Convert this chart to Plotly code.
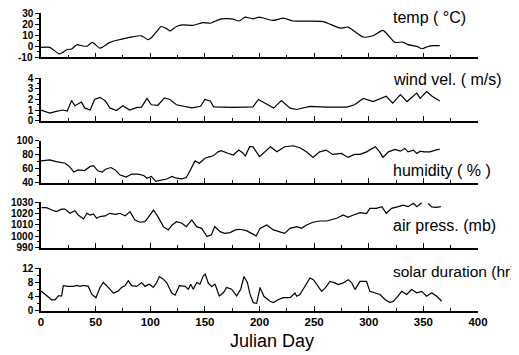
import plotly.graph_objects as go

# ---------------- data ----------------
temp_day = [0, 8, 17, 24, 28, 33, 37, 42, 47, 54, 63, 72, 81, 92, 98, 101, 106, 110, 115, 118, 124, 130,
            139, 148, 155, 165, 176, 181, 187, 194, 200, 212, 222, 231, 258, 274, 281, 295, 304, 313, 324,
            331, 336, 344, 349, 353, 358, 365]
temp_val = [-1, -1, -7, -3, -2.5, 1.4, 0.5, 0, 3.5, -1.7, 3.5, 6, 8, 9.5, 6, 7.7, 13.5, 18, 16, 14, 18, 19.5,
            19, 21.6, 21, 25, 24.7, 23, 26.5, 25, 26.5, 23.5, 25.6, 23, 22.5, 16.5, 17.5, 8.4, 9.5, 14.4, 3.5,
            3.8, 1.4, -0.2, -2.3, -0.7, 0.5, 0.5]

wind_day = [0, 8, 13, 20, 24, 28, 31, 37, 40, 45, 49, 54, 59, 63, 69, 75, 81, 88, 92, 97, 101, 107, 113, 118,
            124, 133, 138, 146, 150, 155, 158, 176, 194, 199, 205, 213, 220, 228, 234, 246, 261, 280, 287, 295,
            304, 316, 322, 329, 335, 344, 347, 353, 358, 361, 365]
wind_val = [1.0, 0.7, 0.85, 1.0, 0.9, 1.9, 1.4, 1.75, 1.2, 1.0, 2.0, 2.2, 1.85, 1.2, 0.95, 1.4, 1.0, 1.25, 1.27,
            2.1, 1.5, 1.45, 2.15, 2.0, 1.5, 1.35, 1.2, 1.35, 2.0, 1.85, 1.3, 1.25, 1.3, 2.0, 1.65, 1.18, 1.9,
            1.18, 1.05, 1.34, 1.27, 1.27, 1.5, 2.1, 1.8, 2.3, 1.65, 2.45, 1.8, 2.6, 2.1, 2.75, 2.3, 2.1, 1.85]

hum_day = [0, 8, 14, 22, 26, 30, 34, 40, 45, 48, 52, 56, 59, 64, 68, 72, 78, 83, 89, 94, 97, 101, 105, 110,
           115, 120, 124, 129, 133, 136, 141, 145, 150, 155, 158, 162, 165, 171, 176, 181, 185, 187, 191, 194,
           200, 210, 216, 223, 231, 237, 243, 249, 255, 261, 267, 275, 281, 287, 292, 298, 306, 310, 313, 318,
           324, 329, 333, 336, 341, 344, 347, 351, 356, 361, 365]
hum_val = [71, 72.4, 70, 67.6, 62.9, 54.8, 58, 57, 63, 64, 56.7, 54.8, 59, 61.4, 58, 51, 47.6, 52, 52, 50, 46,
           48.6, 41.4, 43, 44.8, 48.6, 46, 45, 47, 55.7, 71, 67.6, 74.8, 77, 78.6, 84, 85.7, 82, 79.5, 86.7, 82,
           78, 91.4, 91.4, 77, 91.4, 84, 91.4, 92.8, 90, 84, 76, 84, 86.5, 80.3, 81.7, 76, 80.3, 80.3, 84, 91.4,
           84, 76, 84, 87.5, 85, 88.9, 84, 86.5, 81.7, 85, 84, 84, 86.5, 88]

pres_day = [0.6, 5, 10, 14, 19, 22, 26.5, 31, 34, 39, 42, 45, 48, 51, 54, 58.6, 63, 68, 72, 77, 81.5, 86, 90.6,
            95, 98, 103, 107, 112, 116.5, 120, 124, 129, 133, 138, 142.5, 147, 152, 156, 159, 164, 168, 173,
            178, 182, 188, 193, 197, 200.5, 206.6, 212.7, 223, 228, 234, 238.6, 243, 249, 255, 261.5, 270.6,
            276.7, 281, 286, 292, 298, 301, 307, 312, 316, 321, 327, 331.6, 336, 341, 344, 348.5, 351, 354.5,
            357.6, 362, 366]
pres_val = [1025.3, 1025.3, 1023.2, 1021.8, 1024, 1024, 1020.3, 1022.6, 1018.8, 1015.3, 1020.3, 1018.8, 1019.7,
            1015.9, 1017.4, 1018, 1020.3, 1019.4, 1020.3, 1018, 1021.8, 1014.4, 1012.4, 1012.9, 1016.5, 1023.2,
            1017.4, 1008.5, 1005.6, 1010, 1012.9, 1011.5, 1008.5, 1014.4, 1008.5, 1007, 999.7, 1001.2, 1008.5,
            1004.1, 1002.6, 1003.2, 1005.6, 1006.2, 1005, 1002.6, 1000.3, 1007, 1010, 1005.6, 1002.6, 1007,
            1008.5, 1007, 1010, 1012.4, 1013.5, 1013.5, 1015.9, 1018.8, 1016.8, 1018.8, 1020.9, 1020, 1024.7,
            1024.7, 1026.2, 1020.3, 1024.7, 1026.2, 1027.6, 1026.2, 1029.1, 1026.2, 1029.6, None, 1029, 1026,
            1025.5, 1026.2]

sol_day = [0, 3.7, 6.7, 9.8, 12.8, 15.9, 18.9, 20.4, 25, 29.6,
           32.6, 35.7, 38.8, 43.3, 46.4, 50.3, 54, 57, 61.6, 66.2,
           70.8, 73.8, 76.9, 79.9, 83, 87.6, 92.2, 95.2, 99.2, 102.8,
           105.9, 108.3, 111.4, 115, 119.6, 122.7, 126.6, 131.8, 134.9, 137,
           139.4, 142.5, 145.5, 148.6, 150.4, 153.1, 156.2, 159.3, 163.2, 166.9,
           169.9, 174.5, 179.1, 182.8, 185.8, 188.9, 191.3, 194.3, 197.4, 200.5,
           204, 209.6, 212.7, 217.3, 221.8, 228, 232.5, 234, 237, 241.6,
           246.2, 249.3, 253.8, 256.9, 260, 264.5, 269, 272.2, 276.7, 281.3,
           284.4, 287.4, 292, 298, 301, 305.7, 310.3, 314.9, 319.5, 322.5,
           325.6, 330.2, 334.7, 339.3, 343.9, 348.5, 353, 357.6, 362.2, 366.8]
sol_val = [5.5, 4.6, 3.6, 3.0, 3.0, 4.1, 4.1, 7.0, 6.8, 6.8,
           7.1, 6.8, 7.1, 6.8, 4.6, 3.6, 6.5, 7.9, 6.5, 4.9,
           5.5, 6.5, 7.0, 8.4, 7.0, 6.8, 7.9, 6.8, 7.4, 6.5,
           7.9, 9.6, 9.0, 7.9, 5.0, 4.3, 7.0, 6.8, 6.0, 7.4,
           6.0, 7.9, 7.4, 9.8, 10.3, 7.7, 6.8, 7.4, 4.1, 5.0,
           6.5, 6.0, 4.1, 6.0, 9.6, 7.9, 4.6, 2.2, 2.0, 6.5,
           4.0, 2.6, 2.2, 3.1, 3.6, 3.6, 4.9, 4.0, 4.5, 6.8,
           9.2, 8.7, 6.8, 5.4, 6.3, 8.2, 7.8, 7.3, 7.8, 8.7,
           7.8, 5.9, 8.2, 8.2, 5.4, 5.0, 4.5, 3.1, 2.2, 2.6,
           3.6, 5.4, 4.5, 5.9, 5.0, 5.4, 4.0, 5.0, 4.0, 2.6]

panel_labels = ["temp ( \u00b0C)", "wind vel. ( m/s)", "humidity ( % )", "air press. (mb)", "solar duration (hr)"]
x_title = "Julian Day"
x_ticks = [0, 50, 100, 150, 200, 250, 300, 350, 400]

# ---------------- layout helpers ----------------
# The page body has an 8px default margin, so the figure is drawn 8px in from the
# window's top-left corner; positions below are window pixels, shifted by OFF.
OFF = 8
W, H = 519 - OFF, 355 - OFF
X_LEFT, X_RIGHT = 41 - OFF, 478 - OFF


def px_x(p):
    return (p - OFF) / W


def px_y(p):
    return 1 - (p - OFF) / H


series = [(temp_day, temp_val), (wind_day, wind_val), (hum_day, hum_val), (pres_day, pres_val), (sol_day, sol_val)]
# (top px, bottom px, range, major dtick, minor dtick, label y px, spline?)
panels = [
    (13.3, 57.3, [-10, 30], 10, 5, 18, True),
    (78.3, 120.7, [0, 4], 1, 0.5, 80, False),
    (140.7, 182.5, [40, 100], 20, 10, 170, False),
    (202.3, 247.7, [990, 1030], 10, 5, 225, False),
    (268.0, 310.5, [0, 12], 4, 2, 271, False),
]

font_family = "Liberation Sans, Arial, Helvetica, sans-serif"
tick_font = dict(family=font_family, size=10, weight="bold", color="black")
fig = go.Figure()
annotations = []
layout = dict(
    width=W, height=H, margin=dict(l=0, r=0, t=0, b=0, pad=0, autoexpand=False),
    paper_bgcolor="white", plot_bgcolor="white", showlegend=False,
    font=dict(family=font_family, color="black"),
)

for i, ((dx, dy), (top, bot, rng, dt, mdt, lab_y, spl)) in enumerate(zip(series, panels)):
    n = "" if i == 0 else str(i + 1)
    fig.add_trace(go.Scatter(
        x=dx, y=dy, mode="lines", xaxis="x" + n, yaxis="y" + n,
        line=dict(color="black", width=1.2, shape="spline" if spl else "linear", smoothing=0.6),
        connectgaps=False, hoverinfo="skip", cliponaxis=True,
    ))
    last = (i == len(panels) - 1)
    layout["xaxis" + n] = dict(
        domain=[X_LEFT / W, X_RIGHT / W], anchor="y" + n, range=[0, 400],
        tickmode="array", tickvals=x_ticks, showticklabels=last,
        ticks="inside", ticklen=5, tickwidth=1.3, tickcolor="black",
        minor=dict(dtick=25, tick0=0, ticks="inside", ticklen=3, tickwidth=1.2, tickcolor="black"),
        showline=True, linecolor="black", linewidth=1.5, showgrid=False, zeroline=False,
        tickfont=dict(family=font_family, size=11.5, weight="bold", color="black"),
        automargin=False, fixedrange=True, ticklabeloverflow="allow",
    )
    ytick_vals = list(range(rng[0], rng[1] + 1, dt))
    # the negative bottom label is written as a plain text beside its tick
    ytick_text = ["" if v < 0 else str(v) for v in ytick_vals]
    span = rng[1] - rng[0]
    layout["yaxis" + n] = dict(
        domain=[px_y(bot), px_y(top)], anchor="x" + n,
        range=[rng[0] - 0.003 * span, rng[1] + 0.001 * span],
        tickmode="array", tickvals=ytick_vals, ticktext=ytick_text,
        ticks="outside", ticklen=4, tickwidth=1.3, tickcolor="black",
        minor=dict(dtick=mdt, tick0=rng[0], ticks="outside", ticklen=2, tickwidth=1.1, tickcolor="black"),
        showline=True, linecolor="black", linewidth=1.5, showgrid=False, zeroline=False,
        tickfont=tick_font,
        automargin=False, fixedrange=True, ticklabeloverflow="allow",
    )
    for v in ytick_vals:
        if v < 0:
            annotations.append(dict(
                text=str(v), xref="paper", yref="paper", x=px_x(35), y=px_y(bot),
                xanchor="right", yanchor="middle", showarrow=False, font=tick_font,
            ))
    annotations.append(dict(
        text=panel_labels[i], xref="paper", yref="paper", x=px_x(391), y=px_y(lab_y),
        xanchor="left", yanchor="middle", showarrow=False,
        font=dict(family=font_family, size=15.5 if last else 16, color="black"),
    ))

annotations.append(dict(
    text=x_title, xref="paper", yref="paper", x=px_x(272), y=px_y(341),
    xanchor="center", yanchor="middle", showarrow=False,
    font=dict(family=font_family, size=18, color="black"),
))
layout["annotations"] = annotations
fig.update_layout(**layout)
fig.write_html("out.html")
